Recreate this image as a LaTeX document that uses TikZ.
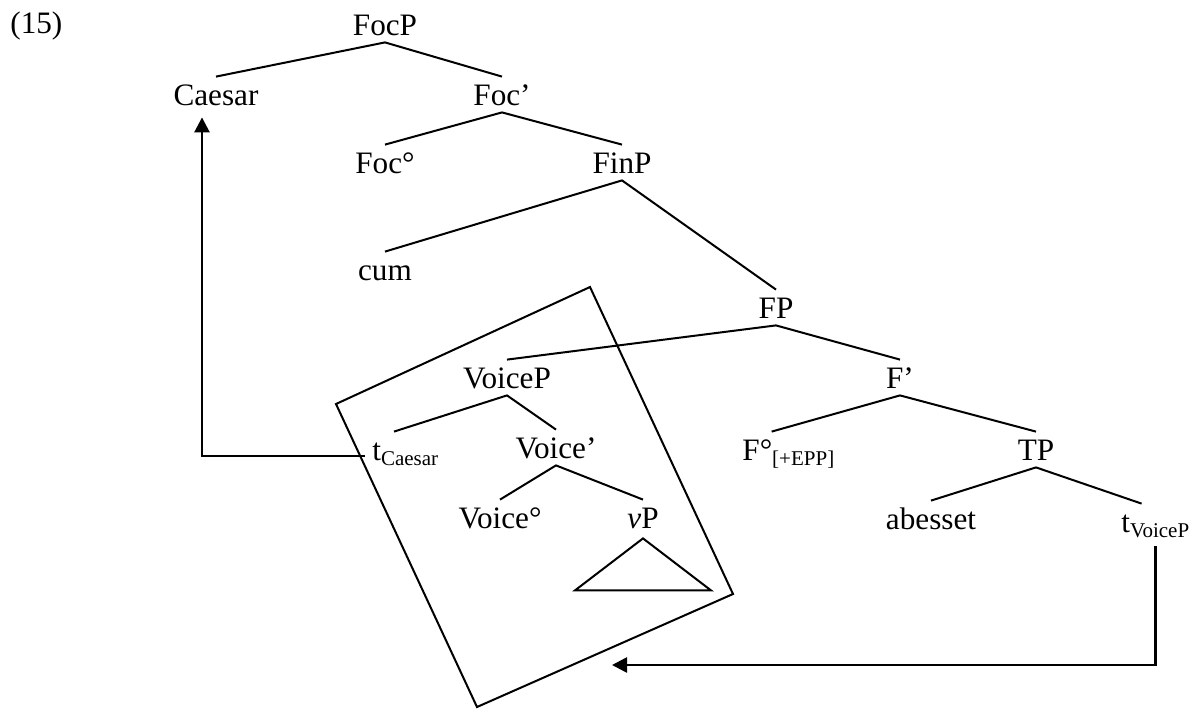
\documentclass[tikz,border=0pt]{standalone}
\usepackage{fontspec}
\setmainfont{Liberation Serif}
\usepackage{tikz}
\usetikzlibrary{arrows.meta,calc}
\newcommand{\lsub}[1]{\raisebox{-2.5pt}{\fontsize{10.5}{12}\selectfont #1}}

\begin{document}
\begin{tikzpicture}[x=0.5pt,y=-0.5pt,
		lbl/.style={anchor=base,inner sep=0pt,text height=14pt,text depth=3.5pt,font=\fontsize{15.6}{18}\selectfont},
		branch/.style={line width=1pt},
		move/.style={line width=1.3pt,-{Triangle[length=7.5pt,width=7.5pt]}}]
			\useasboundingbox (0,0) rectangle (1196,713);
			\node[lbl,anchor=base west] (ex) at (10,33) {(15)};
			\node[lbl] (focp) at (385,35) {FocP};
			\node[lbl] (caesar) at (216,105) {Caesar};
			\node[lbl] (focbar) at (502,105) {Foc’};
			\node[lbl] (foc) at (385,173) {Foc°};
			\node[lbl] (finp) at (622,173) {FinP};
			\node[lbl] (cum) at (385,280) {cum};
			\node[lbl] (fp) at (776,318) {FP};
			\node[lbl] (voicep) at (507,388) {VoiceP};
			\node[lbl] (fbar) at (900,388) {F’};
			\node[lbl,anchor=base west] (tc) at (372,460) {t\lsub{Caesar}};
			\node[lbl] (voicebar) at (556,458) {Voice’};
			\node[lbl,anchor=base west] (f) at (742,460) {F°\lsub{[+EPP]}};
			\node[lbl] (tp) at (1036,460) {TP};
			\node[lbl] (voice) at (500,528) {Voice°};
			\node[lbl] (vp) at (643,528) {{\itshape v}P};
			\node[lbl] (abesset) at (931,529) {abesset};
			\node[lbl,anchor=base west] (tv) at (1121,532) {t\lsub{VoiceP}};
			\coordinate (gap) at (612,665);
			% branches
			\draw[branch] (caesar.north) -- (focp.south) -- (focbar.north);
			\draw[branch] (foc.north) -- (focbar.south) -- (finp.north);
			\draw[branch] (cum.north) -- (finp.south) -- (fp.north);
			\draw[branch] (voicep.north) -- (fp.south) -- (fbar.north);
			\draw[branch] ($(tc.north west)!.33!(tc.north east)$) -- (voicep.south) -- (voicebar.north);
			\draw[branch] (voice.north) -- (voicebar.south) -- (vp.north);
			\draw[branch] ($(f.north west)!.32!(f.north east)$) -- (fbar.south) -- (tp.north);
			\draw[branch] (abesset.north) -- (tp.south) -- ($(tv.north west)!.3!(tv.north east)$);
			\draw[branch] ([yshift=-1.5pt]vp.south) -- ++(-68,52) -- ++(136,0) -- cycle;
			\draw[branch] (590,287) -- (733,594) -- (477,707) -- (336,404) -- cycle;
			% movement
			\draw[move,shorten >=2.5pt] ([shift={(-3.5pt,2pt)}]tc.base west) -| ([xshift=-7pt]caesar.south);
			\draw[move,shorten <=3.5pt] (tv.south) |- (gap);
		\end{tikzpicture}
\end{document}
